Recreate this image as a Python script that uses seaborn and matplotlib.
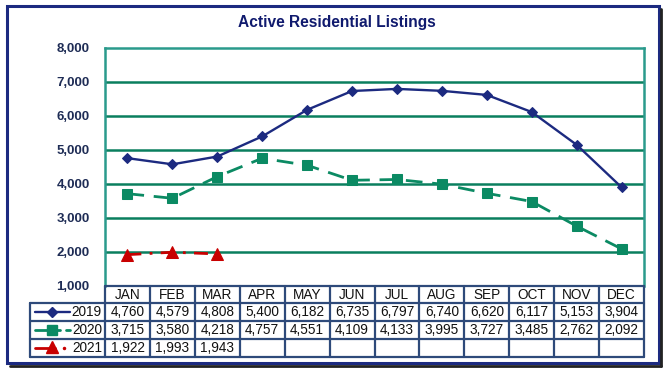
import numpy as np
import pandas as pd
import matplotlib
matplotlib.use("Agg")
import matplotlib.pyplot as plt
import seaborn as sns
from matplotlib.patches import Rectangle
from matplotlib.lines import Line2D

months = ["JAN", "FEB", "MAR", "APR", "MAY", "JUN", "JUL", "AUG", "SEP", "OCT", "NOV", "DEC"]
v2019 = [4760, 4579, 4808, 5400, 6182, 6735, 6797, 6740, 6620, 6117, 5153, 3904]
v2020 = [3715, 3580, 4218, 4757, 4551, 4109, 4133, 3995, 3727, 3485, 2762, 2092]
v2021 = [1922, 1993, 1943]
years = ["2019", "2020", "2021"]
yticks = [1000, 2000, 3000, 4000, 5000, 6000, 7000, 8000]
title = "Active Residential Listings"

NAVY = "#1c2a80"
GREEN = "#0b8a63"
RED = "#c80000"
GRID = "#0a7f5e"
SPINE = "#2a9a8c"
TXT = "#1e2c55"

sns.set_theme(style="white")
plt.rcParams["font.family"] = ["Liberation Sans", "DejaVu Sans"]

W, H = 672, 377
fig = plt.figure(figsize=(W / 100, H / 100), dpi=100)
fig.patch.set_facecolor("white")

def fx(x):
    return x / W

def fy(y):
    return 1 - y / H

# outer frame with shadow
fig.add_artist(Line2D([fx(661), fx(661)], [fy(9), fy(366)], color="#222222", lw=2.0))
fig.add_artist(Line2D([fx(10), fx(661)], [fy(366), fy(366)], color="#222222", lw=2.0))
fig.add_artist(Rectangle((fx(7), fy(363)), fx(659) - fx(7), fy(6) - fy(363),
                         fill=False, edgecolor=NAVY, lw=2.2, transform=fig.transFigure))

fig.text(fx(337), fy(22), title, ha="center", va="center", fontsize=11.2,
         fontweight="bold", color="#101a6e")

L, R, T, B = 105, 644, 48, 286
ax = fig.add_axes([fx(L), fy(B), fx(R) - fx(L), fy(T) - fy(B)])
ax.set_xlim(-0.5, 11.5)
ax.set_ylim(1000, 8000)

df19 = pd.DataFrame({"x": np.arange(12), "y": v2019})
df20 = pd.DataFrame({"x": np.arange(12), "y": v2020})
df21 = pd.DataFrame({"x": np.arange(len(v2021)), "y": v2021})

sns.lineplot(data=df19, x="x", y="y", ax=ax, color=NAVY, marker="D", markersize=5.5,
             markeredgecolor=NAVY, linewidth=1.7)
sns.lineplot(data=df20, x="x", y="y", ax=ax, color=GREEN, marker="s", markersize=6.5,
             markeredgecolor=GREEN, linewidth=2.0)
ax.lines[-1].set_dashes([6, 3.5])
sns.lineplot(data=df21, x="x", y="y", ax=ax, color=RED, marker="^", markersize=8.5,
             markeredgecolor=RED, linewidth=2.0)
ax.lines[-1].set_dashes([5, 3, 1, 3])

ax.set_yticks(yticks)
ax.set_yticklabels([f"{v:,}" for v in yticks], fontsize=9.5, fontweight="bold", color=TXT)
ax.tick_params(axis="y", length=0, pad=11)
ax.set_xticks([])
ax.set_xlabel("")
ax.set_ylabel("")
for yv in yticks[1:-1]:
    ax.axhline(yv, color=GRID, lw=1.8, zorder=0)
for s in ax.spines.values():
    s.set_color(SPINE)
    s.set_linewidth(1.8)
ax.spines["bottom"].set_visible(False)

# data table
tab = fig.add_axes([0, 0, 1, 1], facecolor="none")
tab.set_xlim(0, W)
tab.set_ylim(H, 0)
tab.axis("off")

rows_y = [286, 303, 321, 339, 357]
tl = 30
colw = (R - L) / 12
lc = "#2e4a7a"
# horizontal lines
tab.plot([L, R], [rows_y[0], rows_y[0]], color=lc, lw=1.6)
for yy in rows_y[1:]:
    tab.plot([tl, R], [yy, yy], color=lc, lw=1.6)
# vertical lines
tab.plot([tl, tl], [rows_y[1], rows_y[4]], color=lc, lw=1.6)
for i in range(13):
    xx = L + i * colw
    tab.plot([xx, xx], [rows_y[0], rows_y[4]], color=lc, lw=1.6)

FS = 9.8
for i, m in enumerate(months):
    tab.text(L + (i + 0.5) * colw, (rows_y[0] + rows_y[1]) / 2 + 0.5, m, ha="center", va="center",
             fontsize=FS, color="#111111")

series = [v2019, v2020, v2021]
for r, vals in enumerate(series):
    yc = (rows_y[r + 1] + rows_y[r + 2]) / 2 + 0.5
    for i, v in enumerate(vals):
        tab.text(L + (i + 0.5) * colw, yc, f"{v:,}", ha="center", va="center",
                 fontsize=FS, color="#111111")
    tab.text(L - 3, yc, years[r], ha="right", va="center", fontsize=FS, color="#111111")

# legend samples
yc = [(rows_y[k] + rows_y[k + 1]) / 2 for k in range(1, 4)]
tab.plot([35, 70], [yc[0], yc[0]], color=NAVY, lw=1.7)
tab.plot([52], [yc[0]], marker="D", color=NAVY, markersize=5)
tab.plot([35, 60], [yc[1], yc[1]], color=GREEN, lw=2.0)
tab.plot([66, 70], [yc[1], yc[1]], color=GREEN, lw=2.0)
tab.plot([52], [yc[1]], marker="s", color=GREEN, markersize=6.5)
tab.plot([35, 55], [yc[2], yc[2]], color=RED, lw=2.0)
tab.plot([52], [yc[2] - 1], marker="^", color=RED, markersize=8)
tab.plot([64], [yc[2]], marker="o", color=RED, markersize=1.5)

fig.savefig("out.png", dpi=100, facecolor="white")
